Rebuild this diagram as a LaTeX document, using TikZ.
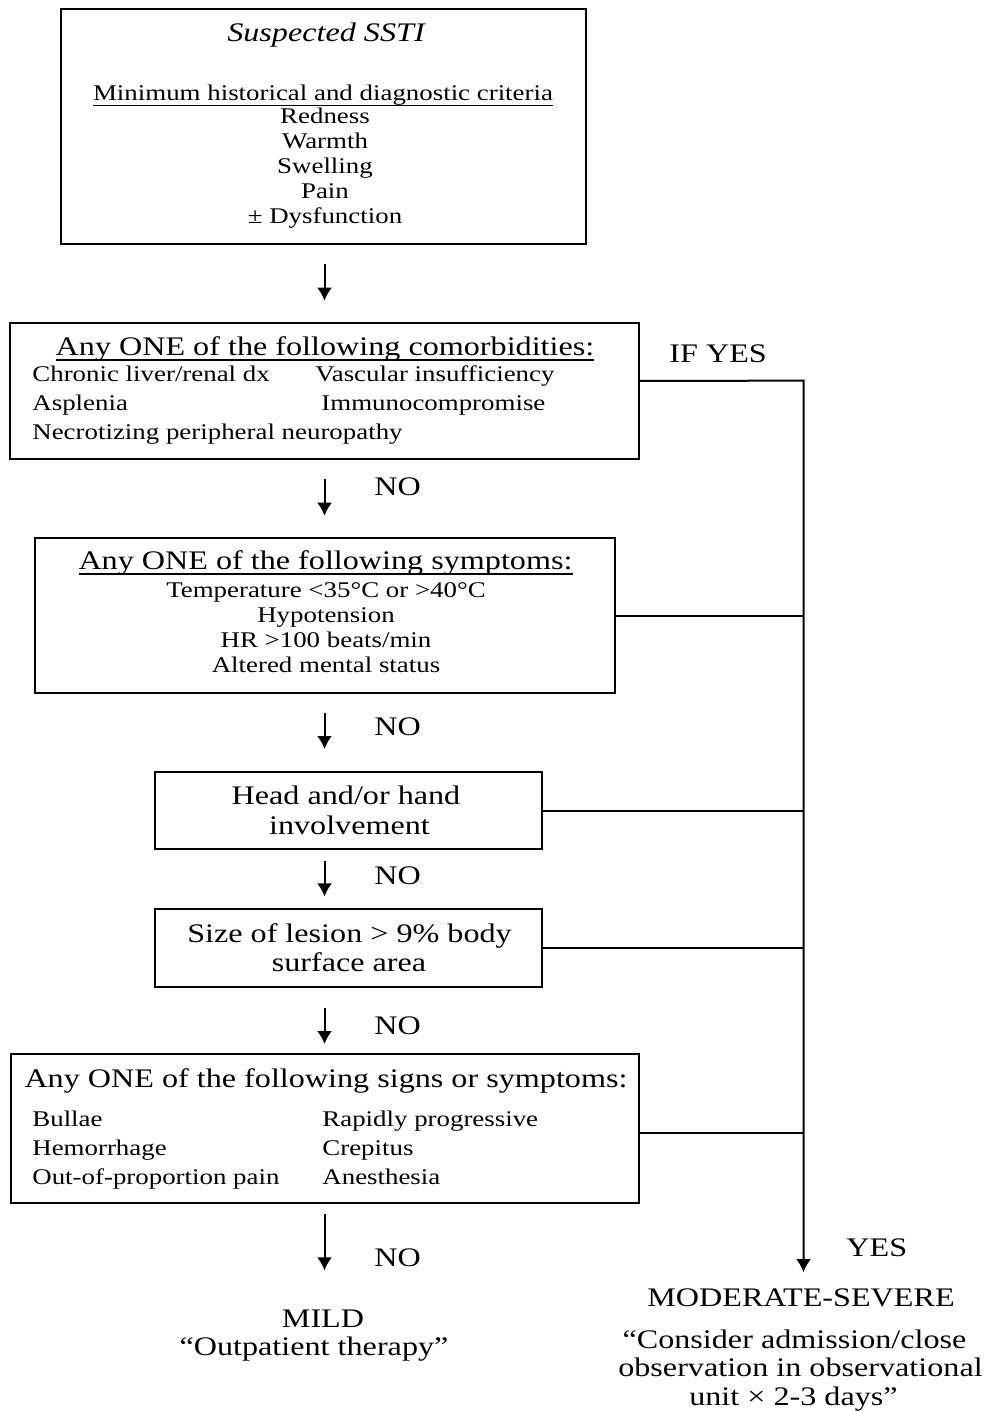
\documentclass[tikz,border=0pt]{standalone}
\usepackage{fontspec}
\setmainfont{Liberation Serif}[FakeStretch=1.2]
\usetikzlibrary{arrows.meta}
\newcommand{\titlesz}{\fontsize{13.4}{15}\selectfont}
\newcommand{\linesz}{\fontsize{11.2}{12.5}\selectfont}
\newcommand{\undertext}[1]{\setbox0\hbox{#1}\rlap{\vrule height -2pt depth 2.7pt width \wd0}\box0}

\begin{document}
\begin{tikzpicture}[x=0.5pt, y=-0.5pt, >={Latex[length=6.5pt,width=7.5pt]},
    box/.style={draw, line width=1pt, inner sep=0pt},
    head/.style={inner sep=0pt, anchor=base, font=\titlesz},
    entry/.style={inner sep=0pt, anchor=base, font=\linesz},
    flow/.style={->, line width=1pt}]
    \useasboundingbox (0,0) rectangle (988,1411);

    % 1. Boxes of the flow chart
    \node[box, minimum width=262.5pt, minimum height=117.5pt] (suspect) at (323.5,126.8) {};
    \node[box, minimum width=314.5pt, minimum height=68.15pt] (comorb) at (324.5,390.85) {};
    \node[box, minimum width=290pt, minimum height=77.8pt] (sympt) at (324.6,615.5) {};
    \node[box, minimum width=193.5pt, minimum height=38.65pt] (headhand) at (348.5,810.65) {};
    \node[box, minimum width=193.5pt, minimum height=38.85pt] (lesion) at (348.5,947.85) {};
    \node[box, minimum width=314pt, minimum height=74.5pt] (signs) at (325,1128.5) {};

    % 2. Suspected SSTI
    \node[head, font=\titlesz\itshape] (sstititle) at (326,41.7) {Suspected SSTI};
    \node[entry] (crittitle) at (323,100.7) {\undertext{Minimum historical and diagnostic criteria}};
    \foreach \crit [count=\i] in {Redness, Warmth, Swelling, Pain, ± Dysfunction}
        \node[entry] (crit\i) at (325, {98.5+25*\i}) {\crit};

    % 3. Comorbidities
    \node[head] (comorbtitle) at (325,355.5) {\undertext{Any ONE of the following comorbidities:}};
    \node[entry, anchor=base west] (liver) at (32,382) {Chronic liver/renal dx};
    \node[entry, anchor=base west] (vasc) at (315,382) {Vascular insufficiency};
    \node[entry, anchor=base west] (asplenia) at (32,411) {Asplenia};
    \node[entry, anchor=base west] (immuno) at (321,411) {Immunocompromise};
    \node[entry, anchor=base west] (neuro) at (32,439.5) {Necrotizing peripheral neuropathy};
    \node[head, anchor=base west] (ifyes) at (669,362.3) {IF YES};

    % 4. Symptoms
    \node[head] (sympttitle) at (325.5,569.3) {\undertext{Any ONE of the following symptoms:}};
    \node[entry] (temp) at (326,597.3) {Temperature <35°C or >40°C};
    \node[entry] (hypo) at (326,622.3) {Hypotension};
    \node[entry] (hr) at (326,647.3) {HR >100 beats/min};
    \node[entry] (mental) at (326,672.3) {Altered mental status};

    % 5. Head/hand and lesion size
    \node[head] (headhand1) at (346,804.3) {Head and/or hand};
    \node[head] (headhand2) at (349.5,834) {involvement};
    \node[head] (lesion1) at (349.5,942.3) {Size of lesion > 9\% body};
    \node[head] (lesion2) at (349,971.7) {surface area};

    % 6. Signs or symptoms
    \node[head] (signstitle) at (326,1087) {Any ONE of the following signs or symptoms:};
    \node[entry, anchor=base west] (bullae) at (32,1126) {Bullae};
    \node[entry, anchor=base west] (rapid) at (322,1126) {Rapidly progressive};
    \node[entry, anchor=base west] (hemor) at (32,1155) {Hemorrhage};
    \node[entry, anchor=base west] (crepit) at (322,1155) {Crepitus};
    \node[entry, anchor=base west] (oop) at (32,1184) {Out-of-proportion pain};
    \node[entry, anchor=base west] (anesth) at (322,1184) {Anesthesia};

    % 7. Outcomes
    \node[head] (mild) at (323,1327.3) {MILD};
    \node[head] (outpat) at (314,1355) {“Outpatient therapy”};
    \node[head] (modsev) at (801,1306.7) {MODERATE-SEVERE};
    \node[head] (admit1) at (794.5,1348.3) {“Consider admission/close};
    \node[head] (admit2) at (800.5,1376.7) {observation in observational};
    \node[head] (admit3) at (793.5,1405) {unit × 2-3 days”};

    % 8. NO / YES labels
    \foreach \yy [count=\i] in {495, 735, 884.3, 1034, 1266.7}
        \node[head, anchor=base west] (no\i) at (374,\yy) {NO};
    \node[head, anchor=base west] (yes) at (846,1256) {YES};

    % 9. Arrows down the left column
    \coordinate (col) at (324.5,0);
    \draw[flow, shorten <=9.5pt, shorten >=10.5pt] (suspect.south -| col) -- (comorb.north -| col);
    \draw[flow, shorten <=9.6pt, shorten >=10.5pt] (comorb.south -| col) -- (sympt.north -| col);
    \draw[flow, shorten <=9.3pt, shorten >=11pt] (sympt.south -| col) -- (headhand.north -| col);
    \draw[flow, shorten <=5.3pt, shorten >=5.8pt] (headhand.south -| col) -- (lesion.north -| col);
    \draw[flow, shorten <=10pt, shorten >=4.5pt] (lesion.south -| col) -- (signs.north -| col);
    \draw[flow, shorten <=4.8pt, shorten >=19.5pt] (signs.south -| col) -- (mild.north -| col);

    % 10. YES branch on the right
    \coordinate (trunk) at (803.5,380.7);
    \draw[flow, shorten >=8.2pt] ([yshift=5pt]comorb.east) -- (trunk) -- (trunk |- modsev.north);
    \draw[line width=1pt] (sympt.east) -- (sympt.east -| trunk);
    \draw[line width=1pt] (headhand.east) -- (headhand.east -| trunk);
    \draw[line width=1pt] (lesion.east) -- (lesion.east -| trunk);
    \draw[line width=1pt] ([yshift=-2pt]signs.east) -- ([yshift=-2pt]signs.east -| trunk);
\end{tikzpicture}
\end{document}
